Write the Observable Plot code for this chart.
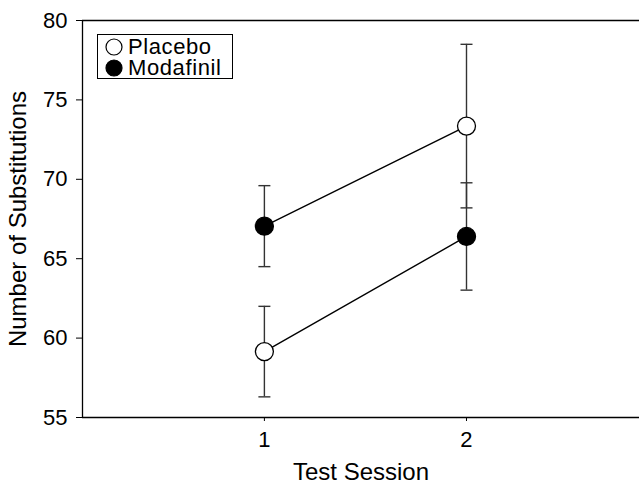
<!DOCTYPE html>
<html>
<head>
<meta charset="utf-8">
<script src="https://cdn.jsdelivr.net/npm/d3@7"></script>
<script src="https://cdn.jsdelivr.net/npm/@observablehq/plot@0.6"></script>
<style>
  html, body { margin: 0; padding: 0; background: #fff; }
  #wrap { position: relative; width: 639px; height: 483px; font-family: "Liberation Sans", Arial, sans-serif; }
  #legend { position: absolute; left: 97px; top: 34px; width: 136px; height: 45px; border: 1px solid #000; box-sizing: border-box; background: #fff; }
  .li { position: absolute; left: 7px; height: 21px; line-height: 21px; display: flex; align-items: center; font-size: 22px; letter-spacing: 0.6px; color: #000; white-space: nowrap; }
  .li svg { margin-right: 5px; flex: none; }
</style>
</head>
<body>
<div id="wrap"></div>
<script>
const sessions = [1, 2];
const groups = ["Placebo", "Modafinil"];
const placeboMean = [59.15, 73.35];
const placeboSE = [2.85, 5.15];
const placeboCohort = ["B", "A"];
const modafinilMean = [67.05, 66.4];
const modafinilSE = [2.55, 3.38];
const modafinilCohort = ["A", "B"];
const yTicks = [55, 60, 65, 70, 75, 80];
const xTicks = [1, 2];
const yDomain = [55, 80];
const xDomain = [0.1, 2.856];

const rows = [];
sessions.forEach((s, i) => {
  rows.push({group: "Placebo", cohort: placeboCohort[i], x: s, y: placeboMean[i], lo: placeboMean[i] - placeboSE[i], hi: placeboMean[i] + placeboSE[i]});
  rows.push({group: "Modafinil", cohort: modafinilCohort[i], x: s, y: modafinilMean[i], lo: modafinilMean[i] - modafinilSE[i], hi: modafinilMean[i] + modafinilSE[i]});
});
const lineRows = rows.slice().sort((a, b) => a.x - b.x);
const caps = rows.flatMap(d => [{x: d.x, y: d.lo}, {x: d.x, y: d.hi}]);
const capSymbol = {draw(ctx) { ctx.moveTo(-6, 0); ctx.lineTo(6, 0); }};

const chart = Plot.plot({
  width: 639,
  height: 483,
  marginLeft: 82,
  marginRight: 0,
  marginTop: 20,
  marginBottom: 66,
  style: {fontFamily: "Liberation Sans, Arial, sans-serif", fontSize: "22px", color: "#000", background: "#fff", overflow: "visible"},
  x: {domain: xDomain},
  y: {domain: yDomain},
  marks: [
    Plot.axisX({ticks: xTicks, tickSize: 4, tickPadding: 10, tickFormat: d3.format("d"), fontSize: 22, label: null}),
    Plot.axisY({ticks: yTicks, tickSize: 6, tickPadding: 9, fontSize: 22, label: null}),
    Plot.text(["Test Session"], {frameAnchor: "bottom", dy: 62, fontSize: 24, text: d => d}),
    Plot.text(["Number of Substitutions"], {frameAnchor: "left", dx: -64, rotate: -90, textAnchor: "middle", fontSize: 24, text: d => d}),
    Plot.ruleY(yDomain, {stroke: "#000", strokeWidth: 1.3}),
    Plot.ruleX([xDomain[0]], {stroke: "#000", strokeWidth: 1.3}),
    Plot.ruleX(rows, {x: "x", y1: "lo", y2: "hi", stroke: "#333", strokeWidth: 1.4}),
    Plot.dot(caps, {x: "x", y: "y", symbol: capSymbol, r: 6, stroke: "#333", strokeWidth: 1.4}),
    Plot.line(lineRows, {x: "x", y: "y", z: "cohort", stroke: "#000", strokeWidth: 1.4}),
    Plot.dot(rows, {x: "x", y: "y", r: 9, stroke: "#000", strokeWidth: 1.3, fill: d => d.group === "Placebo" ? "#fff" : "#000"})
  ]
});
document.getElementById("wrap").appendChild(chart);

const legend = document.createElement("div");
legend.id = "legend";
groups.forEach((g, i) => {
  const item = document.createElement("div");
  item.className = "li";
  item.style.top = (i === 0 ? 1 : 22) + "px";
  const fill = g === "Placebo" ? "#fff" : "#000";
  item.innerHTML = `<svg width="18" height="18"><circle cx="9" cy="9" r="8" fill="${fill}" stroke="#000" stroke-width="1.2"/></svg><span>${g}</span>`;
  legend.appendChild(item);
});
document.getElementById("wrap").appendChild(legend);
</script>
</body>
</html>
